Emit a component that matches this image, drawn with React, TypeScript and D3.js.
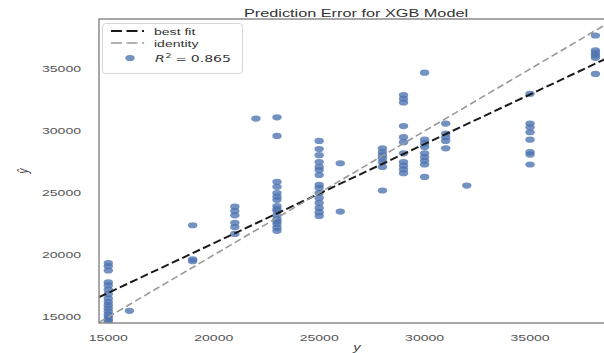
import { useEffect, useRef } from 'react';
import * as d3 from 'd3';

// true value for each column of points
const actualValues = [15000, 16000, 19000, 21000, 22000, 23000, 25000, 26000, 28000, 29000, 30000, 31000, 32000, 35000, 38100];

// predicted values stacked above each true value
const predictedValues = [
  [19350, 19100, 18750, 17800, 17550, 17200, 16850, 16500, 16200, 15950, 15700, 15450, 15200, 15000, 14800, 14650],
  [15500],
  [22400, 19650, 19500],
  [23900, 23550, 23200, 22600, 22250, 21700],
  [31000],
  [31100, 29600, 25900, 25500, 25000, 24700, 24450, 23950, 23700, 23550, 23200, 22900, 22700, 22500, 22200, 21950],
  [29200, 28550, 28050, 27500, 27100, 26850, 26450, 25650, 25400, 25000, 24600, 24200, 23800, 23450, 23150],
  [27400, 23500],
  [28600, 28300, 28050, 27800, 27500, 27100, 25200],
  [32900, 32600, 32300, 30400, 29500, 29100, 28200, 27500, 27200, 26900, 26600],
  [34700, 29300, 29000, 28700, 28200, 27900, 27600, 27300, 26300],
  [30600, 29800, 29500, 29200, 28600],
  [25600],
  [33000, 30600, 30300, 29900, 29300, 28300, 28100, 27300],
  [37700, 36500, 36300, 36100, 35900, 34600],
];

const xTicks = [15000, 20000, 25000, 30000, 35000];
const yTicks = [15000, 20000, 25000, 30000, 35000];
const xDomain = [14559, 38744];
const yDomain = [14516, 39032];

const fitSlope = 0.8;
const fitIntercept = 4950;
const r2Label = '0.865';

const width = 604;
const height = 353;
// the source picture is stretched sideways, so text is too
const stretch = 1.48;

export default function App() {
  const svgRef = useRef<SVGSVGElement>(null);

  useEffect(() => {
    if (!svgRef.current) return;
    const svg = d3.select(svgRef.current);
    svg.selectAll('*').remove();

    const left = 99;
    const right = 609;
    const top = 19;
    const bottom = 323;
    const font = '"Liberation Sans", Arial, sans-serif';

    const x = d3.scaleLinear().domain(xDomain).range([left, right]);
    const y = d3.scaleLinear().domain(yDomain).range([bottom, top]);

    svg
      .append('defs')
      .append('clipPath')
      .attr('id', 'plot-clip')
      .append('rect')
      .attr('x', left)
      .attr('y', top)
      .attr('width', right - left)
      .attr('height', bottom - top);

    const points = actualValues.flatMap((a, i) => predictedValues[i].map((p) => ({ a, p })));

    const plot = svg.append('g').attr('clip-path', 'url(#plot-clip)');

    plot
      .selectAll('ellipse')
      .data(points)
      .enter()
      .append('ellipse')
      .attr('cx', (d) => x(d.a))
      .attr('cy', (d) => y(d.p))
      .attr('rx', 4.7)
      .attr('ry', 3.1)
      .attr('fill', '#4C72B0')
      .attr('fill-opacity', 0.78);

    // best fit
    plot
      .append('line')
      .attr('x1', x(xDomain[0]))
      .attr('y1', y(fitSlope * xDomain[0] + fitIntercept))
      .attr('x2', x(xDomain[1]))
      .attr('y2', y(fitSlope * xDomain[1] + fitIntercept))
      .attr('stroke', '#1a1a1a')
      .attr('stroke-width', 2)
      .attr('stroke-dasharray', '8,3.5');

    // identity
    plot
      .append('line')
      .attr('x1', x(xDomain[0]))
      .attr('y1', y(xDomain[0]))
      .attr('x2', x(xDomain[1]))
      .attr('y2', y(xDomain[1]))
      .attr('stroke', '#999')
      .attr('stroke-width', 1.6)
      .attr('stroke-dasharray', '7,3.5');

    // spines
    svg
      .append('path')
      .attr('d', `M${right},${top}H${left}V${bottom}H${right}`)
      .attr('fill', 'none')
      .attr('stroke', '#8c8c8c')
      .attr('stroke-width', 1.5);

    const stretchedText = (g: any, tx: number, ty: number, anchor: string, s = stretch) =>
      g
        .append('text')
        .attr('transform', `translate(${tx},${ty}) scale(${s},1)`)
        .attr('text-anchor', anchor)
        .attr('font-family', font);

    xTicks.forEach((t) => {
      stretchedText(svg, x(t), 341, 'middle')
        .attr('font-size', 9.5)
        .attr('fill', '#555')
        .text(String(t));
    });
    yTicks.forEach((t) => {
      stretchedText(svg, 81, y(t) + 3.4, 'end')
        .attr('font-size', 9.5)
        .attr('fill', '#555')
        .text(String(t));
    });

    stretchedText(svg, 356, 16.5, 'middle', 1.55)
      .attr('font-size', 10.5)
      .attr('fill', '#333')
      .text('Prediction Error for XGB Model');

    stretchedText(svg, 357, 351, 'middle')
      .attr('font-size', 10)
      .attr('font-style', 'italic')
      .attr('fill', '#444')
      .text('y');

    svg
      .append('text')
      .attr('transform', `translate(28,${(top + bottom) / 2}) rotate(-90) scale(1,${stretch})`)
      .attr('text-anchor', 'middle')
      .attr('font-family', font)
      .attr('font-size', 10)
      .attr('font-style', 'italic')
      .attr('fill', '#444')
      .text('ŷ');

    // legend
    const legend = svg.append('g');
    legend
      .append('rect')
      .attr('x', 102.5)
      .attr('y', 23.5)
      .attr('width', 140)
      .attr('height', 50)
      .attr('rx', 3)
      .attr('fill', 'rgba(255,255,255,0.85)')
      .attr('stroke', '#d5d5d5');

    legend
      .append('line')
      .attr('x1', 111)
      .attr('x2', 144)
      .attr('y1', 31)
      .attr('y2', 31)
      .attr('stroke', '#1a1a1a')
      .attr('stroke-width', 2)
      .attr('stroke-dasharray', '11,4.5');
    legend
      .append('line')
      .attr('x1', 111)
      .attr('x2', 144)
      .attr('y1', 43)
      .attr('y2', 43)
      .attr('stroke', '#999')
      .attr('stroke-width', 1.6)
      .attr('stroke-dasharray', '11,4.5');
    legend
      .append('ellipse')
      .attr('cx', 130)
      .attr('cy', 58)
      .attr('rx', 4.7)
      .attr('ry', 3.1)
      .attr('fill', '#4C72B0')
      .attr('fill-opacity', 0.78);

    stretchedText(legend, 154, 34.5, 'start')
      .attr('font-size', 9.5)
      .attr('fill', '#333')
      .text('best fit');
    stretchedText(legend, 154, 46.5, 'start')
      .attr('font-size', 9.5)
      .attr('fill', '#333')
      .text('identity');

    const r2 = stretchedText(legend, 155, 61.5, 'start')
      .attr('font-size', 9.5)
      .attr('font-family', '"DejaVu Sans", sans-serif')
      .attr('fill', '#333');
    r2.append('tspan').attr('font-style', 'italic').text('R');
    r2.append('tspan').attr('font-size', 6.5).attr('dy', -3.5).attr('dx', 0.5).text('2');
    r2.append('tspan').attr('dy', 3.5).attr('dx', 2.5).text('=');
    r2.append('tspan').attr('dx', 2.5).text(r2Label);
  }, []);

  return (
    <svg
      ref={svgRef}
      width={width}
      height={height}
      style={{ position: 'absolute', left: 0, top: 0, background: '#fff' }}
    />
  );
}
